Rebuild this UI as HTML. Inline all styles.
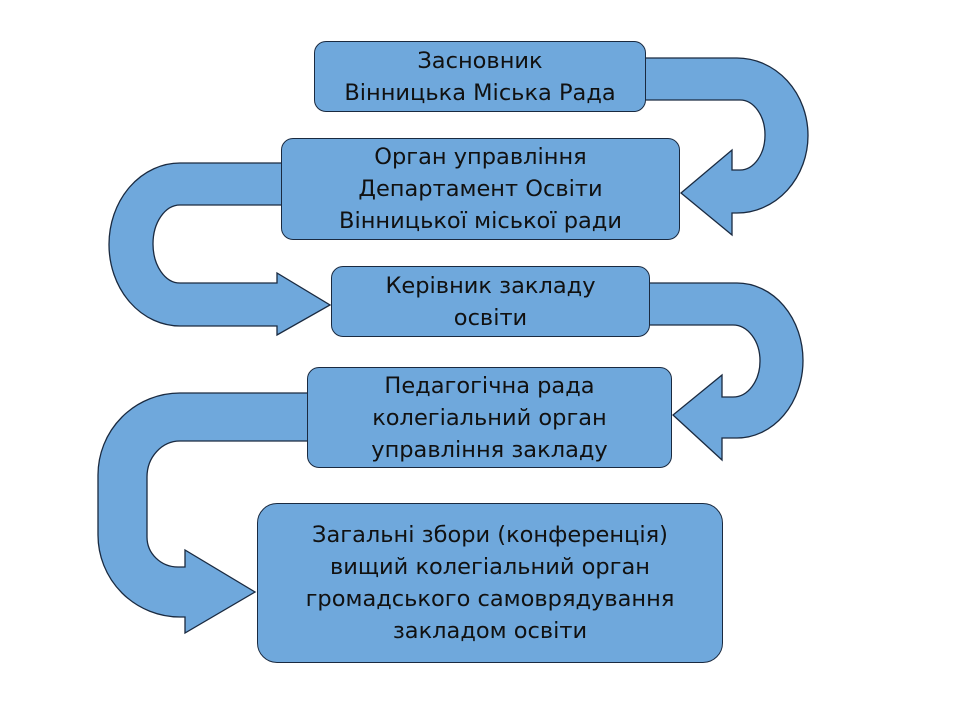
<!DOCTYPE html>
<html><head><meta charset="utf-8"><style>
body{margin:0;width:960px;height:720px;background:#fff;overflow:hidden}
svg{position:absolute;left:0;top:0}
.b{position:absolute;background:#6fa8dc;border:1.3px solid #1a2a40;border-radius:12px;box-sizing:border-box;display:flex;align-items:center;justify-content:center;text-align:center;font-family:"DejaVu Sans","Liberation Sans",sans-serif;font-size:22.5px;line-height:32px;color:#111}
</style></head><body>
<svg width="960" height="720">
<g fill="#6fa8dc" stroke="#1a2a40" stroke-width="1.3">
<path d="M640,58 H737 A71,77.5 0 0 1 737,213 H732 V235 L681,193 L732,150 V170 H740 A25,35 0 0 0 740,100 H640 Z"/>
<path d="M290,163 H180 A71,81.5 0 0 0 180,326 H277 V335 L330,305 L277,273 V283 H180 A27,39 0 0 1 180,205 H290 Z"/>
<path d="M645,283 H737 A66,77.5 0 0 1 737,438 H722 V460 L673,415 L722,375 V397 H733 A27,36 0 0 0 733,325 H645 Z"/>
<path d="M310,393 H180 A82,82 0 0 0 98,475 V535 A82,82 0 0 0 180,617 H185 V633 L255,592 L185,550 V567 H178 A31,30 0 0 1 147,537 V477 A33,36 0 0 1 180,441 H310 Z"/>
</g></svg>
<div class="b" style="left:314px;top:41px;width:332px;height:71px">Засновник<br>Вінницька Міська Рада</div>
<div class="b" style="left:281px;top:138px;width:399px;height:102px">Орган управління<br>Департамент Освіти<br>Вінницької міської ради</div>
<div class="b" style="left:331px;top:266px;width:319px;height:71px">Керівник закладу<br>освіти</div>
<div class="b" style="left:307px;top:367px;width:365px;height:101px">Педагогічна рада<br>колегіальний орган<br>управління закладу</div>
<div class="b" style="left:257px;top:503px;width:466px;height:160px;border-radius:20px">Загальні збори (конференція)<br>вищий колегіальний орган<br>громадського самоврядування<br>закладом освіти</div>
</body></html>
